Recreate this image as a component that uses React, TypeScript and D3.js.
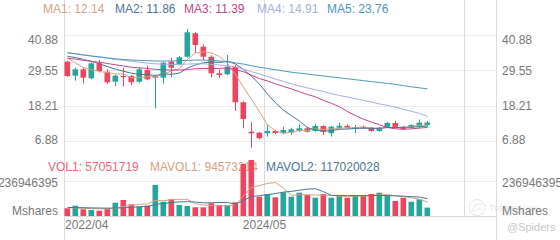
import React from "react";
import * as d3 from "d3";

// ---------- data ----------
const opens = [32.48, 27.99, 30.04, 27.15, 31.96, 29.27, 26.06, 27.9, 27.89, 26.06, 29.82, 27.35, 27.35, 32.48, 31.64, 34.08, 41.6, 37.29, 34.08, 28.76, 28.44, 30.87, 19.46, 10.03, 9.71, 9.52, 10.25, 9.52, 9.8, 10.25, 11.12, 10.25, 11.86, 9.52, 11.3, 11.9, 11.0, 11.6, 11.3, 10.25, 11.54, 12.82, 11.6, 11.3, 11.63, 12.18];
const highs = [32.8, 30.6, 30.5, 32.3, 33.0, 30.1, 28.4, 30.5, 28.2, 30.6, 31.2, 28.2, 32.5, 33.76, 34.3, 42.96, 42.0, 38.06, 34.5, 30.04, 34.63, 31.5, 19.8, 13.04, 10.0, 12.18, 10.6, 11.63, 11.3, 12.4, 11.6, 12.6, 12.1, 11.9, 12.9, 12.4, 12.18, 12.0, 11.6, 11.6, 13.2, 13.5, 11.9, 12.4, 13.96, 13.5];
const lows = [27.6, 26.38, 25.55, 26.8, 29.0, 25.3, 24.68, 24.5, 24.99, 25.7, 26.5, 17.53, 25.55, 27.47, 31.3, 33.8, 35.17, 32.99, 27.35, 27.15, 28.1, 16.67, 11.12, 4.9, 7.6, 8.43, 9.2, 9.2, 9.0, 9.9, 9.8, 10.0, 8.97, 8.43, 11.0, 10.9, 9.5, 10.9, 10.0, 10.0, 11.3, 11.2, 10.6, 11.0, 11.3, 11.8];
const closes = [27.89, 30.04, 27.35, 31.96, 29.5, 25.87, 27.99, 27.5, 25.87, 30.04, 26.83, 27.89, 32.16, 30.55, 33.89, 41.91, 37.83, 34.08, 28.76, 28.2, 30.87, 19.46, 14.1, 9.52, 7.91, 10.25, 9.6, 10.57, 10.8, 11.12, 10.03, 11.86, 10.0, 11.63, 11.9, 11.3, 11.5, 11.2, 10.25, 11.3, 12.82, 11.5, 10.9, 12.18, 12.92, 13.0];
const volumes = [52100000, 69700000, 45400000, 40600000, 35900000, 49400000, 90000000, 108300000, 79200000, 63000000, 69700000, 209900000, 96800000, 113000000, 74500000, 67700000, 58900000, 58900000, 86000000, 74500000, 72400000, 92700000, 352000000, 379000000, 130700000, 146900000, 126600000, 160400000, 130700000, 157700000, 142200000, 123900000, 148900000, 123900000, 137400000, 123900000, 142200000, 142200000, 148900000, 157700000, 135400000, 101500000, 123900000, 96800000, 113000000, 57051719];

const ma1 = [33.6, 32.0, 30.6, 29.9, 29.35, 28.94, 28.53, 28.56, 27.35, 27.45, 27.65, 27.63, 28.56, 29.49, 30.26, 33.28, 35.27, 35.65, 35.29, 34.16, 31.95, 28.27, 24.28, 20.43, 16.37, 12.25, 10.28, 9.57, 9.83, 10.47, 10.42, 10.88, 10.76, 10.93, 11.08, 11.34, 11.27, 11.51, 11.23, 11.11, 11.41, 11.41, 11.35, 11.74, 12.06, 12.14];
const ma2 = [34.2, 33.8, 33.2, 32.6, 31.8, 30.9, 30.1, 29.4, 28.8, 28.4, 28.3, 28.08, 28.56, 28.42, 28.86, 30.46, 31.45, 32.11, 32.39, 32.21, 32.61, 31.77, 29.97, 27.86, 25.26, 22.1, 19.28, 16.92, 15.13, 13.42, 11.34, 10.58, 10.17, 10.38, 10.78, 10.88, 11.07, 11.13, 11.08, 11.1, 11.38, 11.34, 11.43, 11.49, 11.59, 11.86];
const ma3 = [33.6, 33.3, 32.9, 32.6, 32.3, 31.9, 31.5, 31.1, 30.7, 30.5, 30.3, 30.0, 29.9, 29.8, 29.8, 30.0, 30.2, 30.3, 30.3, 30.31, 30.45, 29.93, 29.26, 28.14, 27.06, 26.28, 25.36, 24.51, 23.76, 22.82, 21.98, 21.17, 20.07, 19.12, 18.02, 16.49, 15.17, 14.03, 13.1, 12.26, 11.36, 10.96, 10.8, 10.93, 11.18, 11.39];
const ma4 = [35.3, 35.0, 34.7, 34.3, 34.0, 33.6, 33.2, 32.9, 32.6, 32.3, 32.0, 31.8, 31.7, 31.6, 31.6, 31.7, 31.8, 31.8, 31.6, 31.4, 31.2, 30.75, 30.1, 29.3, 28.5, 27.7, 26.9, 26.15, 25.41, 24.68, 24.08, 23.48, 22.9, 22.22, 21.63, 21.15, 20.6, 20.05, 19.53, 18.91, 18.44, 17.9, 17.19, 16.57, 15.88, 14.91];
const ma5 = [35.4, 35.0, 34.6, 34.3, 34.0, 33.7, 33.4, 33.2, 33.0, 32.9, 32.8, 32.7, 32.7, 32.7, 32.8, 32.9, 33.0, 33.0, 32.9, 32.7, 32.5, 32.1, 31.7, 31.2, 30.7, 30.3, 29.9, 29.5, 29.1, 28.8, 28.5, 28.2, 27.9, 27.6, 27.3, 27.0, 26.7, 26.4, 26.1, 25.8, 25.5, 25.2, 24.8, 24.4, 24.1, 23.76];

const mavol1 = [55, 55, 52, 50, 48.7, 48.2, 52.3, 64.8, 72.6, 78, 82, 106, 103.7, 110.5, 112.8, 112.4, 82.2, 74.6, 69.2, 69.2, 70.1, 76.9, 135.5, 194.1, 205.4, 220.3, 227, 188.7, 139.1, 144.5, 143.5, 143, 140.7, 139.3, 135.3, 131.6, 135.3, 133.9, 138.9, 143, 145.3, 137.1, 133.5, 123.1, 114.1, 94.57];
const mavol2 = [58, 57, 56, 55, 54, 53, 54, 56, 58, 63.4, 65.1, 79.1, 84.3, 91.5, 95.4, 97.2, 94.1, 89.2, 89.8, 91, 91.3, 79.5, 105.1, 131.7, 137.3, 145.2, 152, 162.1, 166.6, 174.9, 181.9, 185, 164.7, 139.2, 139.9, 137.6, 139.1, 137.3, 139.1, 139.1, 138.4, 136.2, 133.7, 131, 128.6, 117.02];
const MAVOL_UNIT = 1000000;

const priceTicks = [40.88, 29.55, 18.21, 6.88];
const priceTickLabels = ["40.88", "29.55", "18.21", "6.88"];
const volTicks = [236946395, 0];
const volTickLabels = ["236946395", "Mshares"];
const xTickIdx = [0, 25, 50];
const xTickLabels = ["2022/04", "2024/05", ""];

const maLegend = ["MA1: 12.14", "MA2: 11.86", "MA3: 11.39", "MA4: 14.91", "MA5: 23.76"];
const volLegend = ["VOL1: 57051719", "MAVOL1: 94573214", "MAVOL2: 117020028"];

// ---------- styles ----------
const UP = "#26a69a";
const DOWN = "#f0435f";
const MA_COLORS = ["#d6a282", "#4a7595", "#c0478c", "#a5afdc", "#4b98c0"];
const VOL_COLORS = ["#f0647a", "#d6a282", "#4a7595"];
const MA_LEGEND_X = [43, 115, 184, 257, 327];
const VOL_LEGEND_X = [48, 150, 266];
const FONT = "'Liberation Sans', Arial, Helvetica, sans-serif";
const AXIS_TEXT = "#777";
const GRID = "#ececec";
const AXIS = "#dcdcdc";

export default function App() {
  const N = closes.length;
  const x = d3
    .scaleBand<number>()
    .domain(d3.range(N))
    .range([63.3, 63.3 + 8 * N])
    .paddingInner(0.3)
    .paddingOuter(0.15);
  const bw = x.bandwidth();
  const cx = (i: number) => Math.floor((x(i) as number) + bw / 2) + 0.5;
  const tickX = (i: number) => x.range()[0] + x.step() * (i + x.paddingOuter());

  const yP = d3.scaleLinear().domain([6.88, 40.88]).range([141.5, 35.5]);
  const yV = d3.scaleLinear().domain([0, 236946395]).range([216, 181]);
  const crisp = (v: number) => Math.floor(v) + 0.5;

  const leftX = tickX(0);
  const rightX = 496.5;

  const maLine = d3
    .line<number>()
    .x((_, i) => cx(i))
    .y((d) => yP(d));
  const volLine = d3
    .line<number>()
    .x((_, i) => cx(i))
    .y((d) => yV(d * MAVOL_UNIT));

  const maSeries = [ma1, ma2, ma3, ma4, ma5];
  const mavolSeries = [mavol1, mavol2];

  return (
    <svg
      width={560}
      height={240}
      style={{ position: "absolute", left: 0, top: 0, background: "#fff", display: "block" }}
      fontFamily={FONT}
    >
      <rect x={0} y={0} width={560} height={240} fill="#fff" />
      {/* horizontal grid – price */}
      {priceTicks.map((t) => (
        <line key={"pg" + t} x1={leftX} x2={rightX} y1={crisp(yP(t))} y2={crisp(yP(t))} stroke={GRID} />
      ))}
      {/* horizontal grid – volume */}
      <line x1={leftX} x2={rightX} y1={crisp(yV(volTicks[0]))} y2={crisp(yV(volTicks[0]))} stroke={GRID} />
      {/* vertical grid */}
      {xTickIdx.map((t) => (
        <line key={"vg" + t} x1={tickX(t)} x2={tickX(t)} y1={0} y2={216} stroke={AXIS} />
      ))}
      {/* axes lines */}
      <line x1={leftX} x2={leftX} y1={0} y2={240} stroke={AXIS} />
      <line x1={rightX} x2={rightX} y1={0} y2={240} stroke={AXIS} />
      <line x1={leftX} x2={rightX} y1={216.5} y2={216.5} stroke={AXIS} />

      {/* watermark */}
      <g opacity={0.5}>
        <circle cx={477} cy={207.5} r={8} fill="none" stroke="#c8c8c8" strokeWidth={1} />
        <path d="M472,211 C474,205 478,203 482,204 M474,212 C477,209 480,208 482,210" fill="none" stroke="#c8c8c8" />
        <text x={489} y={211} fontSize={9} fill="#d0d0d0">TradingView</text>
      </g>
      <text x={507} y={231} fontSize={11} fill="#c9c9c9">@Spiders</text>

      {/* price axis labels */}
      {priceTicks.map((t, i) => {
        const off = i === 0 ? 4 : i === priceTicks.length - 1 ? -2 : 0;
        const y = yP(t) + off + 4;
        return (
          <g key={"pl" + t}>
            <text x={58} y={y} fontSize={12} fill={AXIS_TEXT} textAnchor="end">{priceTickLabels[i]}</text>
            <text x={502} y={y} fontSize={12} fill={AXIS_TEXT}>{priceTickLabels[i]}</text>
          </g>
        );
      })}
      {/* volume axis labels */}
      {volTicks.map((t, i) => {
        const y = i === 0 ? yV(t) + 5.5 : yV(t) - 1;
        return (
          <g key={"vl" + i}>
            <text x={58} y={y} fontSize={12} fill={AXIS_TEXT} textAnchor="end">{volTickLabels[i]}</text>
            <text x={502} y={y} fontSize={12} fill={AXIS_TEXT}>{volTickLabels[i]}</text>
          </g>
        );
      })}
      {/* x axis labels */}
      {xTickIdx.map((t, i) => (
        <text
          key={"xl" + t}
          x={i === 0 ? tickX(t) + 0.5 : tickX(t)}
          y={228.5}
          fontSize={12}
          fill={AXIS_TEXT}
          textAnchor={i === 0 ? "start" : "middle"}
        >
          {xTickLabels[i]}
        </text>
      ))}

      {/* top legend */}
      {maLegend.map((s, i) => (
        <text key={"ml" + i} x={MA_LEGEND_X[i]} y={13} fontSize={12} fill={MA_COLORS[i]}>{s}</text>
      ))}
      {/* volume legend (under bars) */}
      {volLegend.map((s, i) => (
        <text key={"vleg" + i} x={VOL_LEGEND_X[i]} y={170.5} fontSize={12} fill={VOL_COLORS[i]}>{s}</text>
      ))}

      {/* candles */}
      {closes.map((c, i) => {
        const o = opens[i];
        const up = c >= o;
        const col = up ? UP : DOWN;
        const top = yP(Math.max(o, c));
        const h = Math.max(1, Math.abs(yP(o) - yP(c)));
        return (
          <g key={"c" + i}>
            <line x1={cx(i)} x2={cx(i)} y1={yP(highs[i])} y2={yP(lows[i])} stroke={col} strokeWidth={1} />
            <rect x={x(i)} y={top} width={bw} height={h} fill={col} />
          </g>
        );
      })}
      {/* MA lines */}
      {maSeries.map((s, k) => (
        <path key={"ma" + k} d={maLine(s) || ""} fill="none" stroke={MA_COLORS[k]} strokeWidth={1} />
      ))}

      {/* volume bars */}
      {volumes.map((v, i) => {
        const up = closes[i] >= opens[i];
        return (
          <rect key={"v" + i} x={x(i)} y={yV(v)} width={bw} height={yV(0) - yV(v)} fill={up ? UP : DOWN} />
        );
      })}
      {mavolSeries.map((s, k) => (
        <path key={"mv" + k} d={volLine(s) || ""} fill="none" stroke={VOL_COLORS[k + 1]} strokeWidth={1} />
      ))}
    </svg>
  );
}
